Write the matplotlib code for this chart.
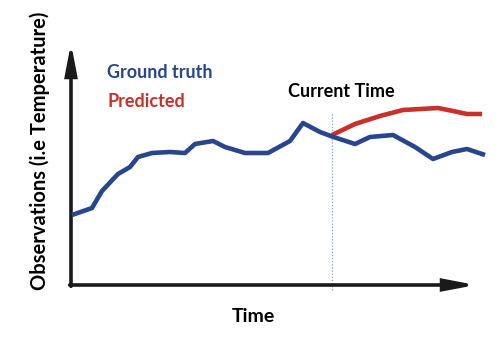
import matplotlib
matplotlib.use("Agg")
import matplotlib.pyplot as plt

# Ground truth series (time index, observation value)
truth_t = [1, 21, 31, 47, 59, 67, 81, 99, 114, 124, 142, 154, 174, 197, 219, 232, 249, 261,
           284, 299, 322, 344, 362, 381, 396, 414]
truth_v = [70, 77, 94, 111, 118, 128, 132, 133, 132, 141, 144, 138, 132, 132, 144, 162, 153, 148.5,
           141, 148, 150, 138, 126, 133, 136, 130]

# Predicted series
pred_t = [261, 284, 309, 332, 367, 382, 396, 411]
pred_v = [150, 161, 169, 175, 177, 174, 171, 171]

current_time = 261

BLUE = "#27468f"
RED = "#c8302b"
AXIS = "#1a1a1a"

plt.rcParams['font.family'] = ['Lato', 'DejaVu Sans']

fig = plt.figure(figsize=(4.99, 3.58), dpi=100)
ax = fig.add_axes([0, 0, 1, 1])
ax.set_xlim(-71, 428)
ax.set_ylim(-73, 285)
ax.axis('off')

# axes arrows
arrow_kw = dict(arrowstyle="-|>,head_length=1.05,head_width=0.2", lw=2.6, color=AXIS,
                mutation_scale=17, shrinkA=0, shrinkB=0, joinstyle='miter')
ax.annotate("", xy=(405, 0), xytext=(-1.3, 0), arrowprops=arrow_kw)
ax.annotate("", xy=(0, 242), xytext=(0, -1.3), arrowprops=arrow_kw)

# current time dotted line
ax.plot([current_time, current_time], [-5, 172], linestyle=(0, (1, 1.5)), color="#7fa3bf", lw=0.9)

ax.plot(truth_t, truth_v, color=BLUE, lw=3.3, solid_joinstyle='round', solid_capstyle='butt', zorder=3)
ax.plot(pred_t, pred_v, color=RED, lw=3.3, solid_joinstyle='round', solid_capstyle='butt', zorder=2)

ax.text(36, 207, "Ground truth", color=BLUE, fontsize=13, fontweight='bold', va='baseline', ha='left')
ax.text(37, 178, "Predicted", color=RED, fontsize=13, fontweight='bold', va='baseline', ha='left')
ax.text(217, 188, "Current Time", color="black", fontsize=13, fontweight='bold', va='baseline', ha='left')
ax.text(182.5, -37, "Time", color="black", fontsize=14, fontweight='bold', va='baseline', ha='center')
ax.text(-31, 134, "Observations (i.e Temperature)", color="black", fontsize=14.5, fontweight='bold',
        va='center', ha='center', rotation=90)

fig.savefig("out.png", dpi=100)
